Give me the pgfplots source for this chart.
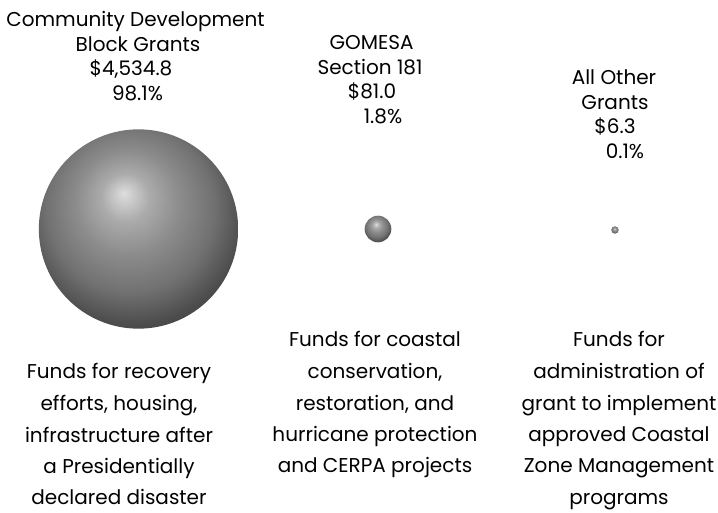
\documentclass[border=0pt]{standalone}
\usepackage{pgfplots}
\pgfplotsset{compat=1.18}
\usepackage{fontspec}
\setmainfont{Poppins}
\definecolor{b0}{HTML}{DEDEDE}
\definecolor{b1}{HTML}{ABABAB}
\definecolor{b2}{HTML}{8C8C8C}
\definecolor{b3}{HTML}{717171}
\definecolor{b4}{HTML}{4C4C4C}
\definecolor{b5}{HTML}{3A3A3A}
\pgfdeclareradialshading{myball}{\pgfpoint{-3.75bp}{9bp}}{%
  color(0bp)=(b0);
  color(6bp)=(b1);
  color(13bp)=(b2);
  color(21bp)=(b3);
  color(28bp)=(b4);
  color(34bp)=(b5);
  color(50bp)=(black)}
\pgfdeclareplotmark{myball}{%
  \pgfpathcircle{\pgfpointorigin}{\pgfplotmarksize}%
  \pgfshadepath{myball}{0}%
  \pgfusepath{discard}}
\begin{document}
\begin{tikzpicture}[x=1pt,y=1pt]
\path[use as bounding box] (0,0) rectangle (718,512);
\begin{axis}[at={(0,0)},anchor=south west, scale only axis, width=718pt, height=512pt,
  xmin=0, xmax=718, ymin=0, ymax=512, hide axis, clip=false]
\addplot[scatter, only marks, mark=myball,
  visualization depends on={1.48*sqrt(\thisrow{value}) \as \msize},
  scatter/@pre marker code/.append style={/tikz/mark size=\msize}]
  table {
  x y value
  138.5 283 4534.8
  378 283 81.0
  615 282 6.3
  };
\end{axis}
\tikzset{t/.style={anchor=base, inner sep=0pt, font=\fontsize{20}{24}\selectfont, text=black}}
% top block 1
\node[t] at (135.5,485) {Community Development};
\node[t] at (138,460.5) {Block Grants};
\node[t] at (131,436) {\$4,534.8};
\node[t] at (137.5,411.5) {98.1\%};
% top block 2
\node[t] at (371.5,462) {GOMESA};
\node[t] at (370,437.5) {Section 181};
\node[t] at (372,413) {\$81.0};
\node[t] at (383,388.5) {1.8\%};
% top block 3
\node[t] at (614,427) {All Other};
\node[t] at (615,402.5) {Grants};
\node[t] at (615,378) {\$6.3};
\node[t] at (625,353.5) {0.1\%};
% bottom block 1
\node[t] at (119,133) {Funds for recovery};
\node[t] at (119,101.5) {efforts, housing,};
\node[t] at (119,70) {infrastructure after};
\node[t] at (119,39) {a Presidentially};
\node[t] at (119,8) {declared disaster};
% bottom block 2
\node[t] at (375,165) {Funds for coastal};
\node[t] at (375,133.5) {conservation,};
\node[t] at (375,102) {restoration, and};
\node[t] at (375,71) {hurricane protection};
\node[t] at (375,40) {and CERPA projects};
% bottom block 3
\node[t] at (619,165) {Funds for};
\node[t] at (619,133.5) {administration of};
\node[t] at (619,102) {grant to implement};
\node[t] at (619,71) {approved Coastal};
\node[t] at (619,40) {Zone Management};
\node[t] at (619,8) {programs};
\end{tikzpicture}
\end{document}
